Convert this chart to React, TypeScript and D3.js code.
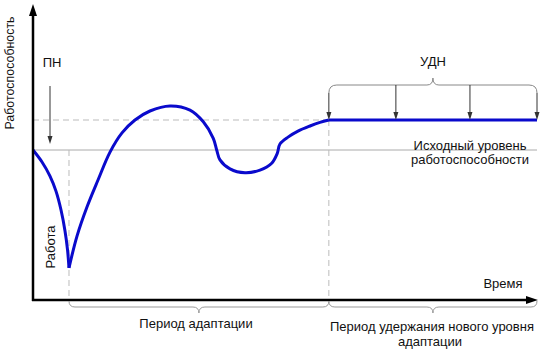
import React from 'react';
import * as d3 from 'd3';

const width = 550;
const height = 351;

// levels (capacity units) and time marks (time units)
const baseLevel = 50;
const newLevel = 60;
const workTime = 7.14;
const adaptEnd = 58.7;
const timeEnd = 100;
const udnArrowTimes = [58.7, 72, 86.7, 100];

// work capacity curve: sharp drop right after start
const dropTime = [0, 1.79, 3.37, 4.56, 5.56, 6.35, 6.85, 7.14];
const dropValue = [50, 46, 41.3, 36.3, 30, 23, 16.7, 10.7];

// recovery and adaptation wave up to the new level
const riseTime = [7.14, 8.73, 10.71, 12.9, 15.28, 17.66, 20.24, 23.21, 27.18, 31.15, 33.79, 35.77, 36.45, 37.1, 39.09, 42.06, 45.04, 47.36, 48.47, 49, 50.6, 52.58, 54.96, 56.94, 58.7];
const riseValue = [10.7, 21.3, 31, 40, 49.3, 55.7, 60, 63, 64.7, 63.3, 59.4, 53.9, 50, 46.7, 43.7, 42.4, 43.3, 45.6, 48.9, 52, 54.3, 56.3, 58, 59.2, 60];

// plateau of the held level
const holdTime = [58.7, 100];
const holdValue = [60, 60];

type Pt = { t: number; v: number };
const zip = (ts: number[], vs: number[]): Pt[] => ts.map((t, i) => ({ t, v: vs[i] }));

export default function App() {
  const x = d3.scaleLinear().domain([0, 100]).range([33, 537]);
  const y = d3.scaleLinear().domain([0, 100]).range([300, 0]);

  const curve = d3.line<Pt>()
    .x(d => x(d.t))
    .y(d => y(d.v))
    .curve(d3.curveCatmullRom.alpha(0.5));
  const straight = d3.line<Pt>().x(d => x(d.t)).y(d => y(d.v));

  const font = 'Liberation Sans, Arial, sans-serif';
  const x0 = x(0);
  const y0 = y(0);

  // curly brace opening downward (below axis)
  const braceDown = (a: number, b: number, top: number) => {
    const m = (a + b) / 2;
    const r = 6;
    return `M${a},${top} Q${a},${top + r} ${a + r},${top + r} L${m - r},${top + r} Q${m},${top + r} ${m},${top + 2 * r}` +
      ` Q${m},${top + r} ${m + r},${top + r} L${b - r},${top + r} Q${b},${top + r} ${b},${top}`;
  };

  // УДН bracket above plateau
  const bTop = 85;
  const bA = x(udnArrowTimes[0]);
  const bB = x(udnArrowTimes[udnArrowTimes.length - 1]);
  const bM = (bA + bB) / 2;
  const rr = 8;
  const bracketUp = `M${bA},${bTop + rr} Q${bA},${bTop} ${bA + rr},${bTop} L${bM - 6},${bTop} Q${bM},${bTop} ${bM},${bTop - 7}` +
    ` Q${bM},${bTop} ${bM + 6},${bTop} L${bB - rr},${bTop} Q${bB},${bTop} ${bB},${bTop + rr}`;

  const arrowTip = y(newLevel);

  return (
    <svg width={width} height={height} style={{ position: 'absolute', left: 0, top: 0, background: '#fff' }}>
      {/* baseline level */}
      <line x1={x0} x2={x(timeEnd)} y1={y(baseLevel)} y2={y(baseLevel)} stroke="#aaa" strokeWidth={1} />
      {/* new level dashed */}
      <line x1={x0} x2={x(adaptEnd)} y1={y(newLevel)} y2={y(newLevel)} stroke="#bbb" strokeWidth={1} strokeDasharray="6,4" />
      {/* vertical dashed marks */}
      <line x1={x(workTime)} x2={x(workTime)} y1={y(baseLevel)} y2={y0} stroke="#bbb" strokeWidth={1} strokeDasharray="6,4" />
      <line x1={x(adaptEnd)} x2={x(adaptEnd)} y1={y(newLevel)} y2={y0} stroke="#bbb" strokeWidth={1} strokeDasharray="6,4" />

      {/* curve */}
      <path d={curve(zip(dropTime, dropValue)) || ''} fill="none" stroke="#0a0acc" strokeWidth={3} strokeLinejoin="round" />
      <path d={curve(zip(riseTime, riseValue)) || ''} fill="none" stroke="#0a0acc" strokeWidth={3} strokeLinejoin="round" />
      <path d={straight(zip(holdTime, holdValue)) || ''} fill="none" stroke="#0a0acc" strokeWidth={3} />

      {/* axes */}
      <line x1={x0} x2={x0} y1={y0 + 1} y2={14} stroke="#000" strokeWidth={2.5} />
      <path d={`M${x0},4 L${x0 - 4},16 L${x0 + 4},16 Z`} fill="#000" />
      <line x1={x0 - 1} x2={x(timeEnd) - 8} y1={y0} y2={y0} stroke="#000" strokeWidth={2.5} />
      <path d={`M${x(timeEnd) + 1},${y0} L${x(timeEnd) - 11},${y0 - 4} L${x(timeEnd) - 11},${y0 + 4} Z`} fill="#000" />

      {/* ПН arrow */}
      <line x1={50} x2={50} y1={86} y2={137} stroke="#333" strokeWidth={1} />
      <path d={`M50,144 L47.5,136 L52.5,136 Z`} fill="#333" />

      {/* УДН bracket and arrows */}
      <path d={bracketUp} fill="none" stroke="#888" strokeWidth={1} />
      {udnArrowTimes.map((t, i) => (
        <g key={i}>
          <line x1={x(t)} x2={x(t)} y1={i === 0 || i === udnArrowTimes.length - 1 ? bTop + rr : bTop} y2={arrowTip - 7} stroke="#333" strokeWidth={1} />
          <path d={`M${x(t)},${arrowTip} L${x(t) - 2.5},${arrowTip - 8} L${x(t) + 2.5},${arrowTip - 8} Z`} fill="#333" />
        </g>
      ))}

      {/* bottom braces */}
      <path d={braceDown(x(workTime), x(adaptEnd), y0 + 1)} fill="none" stroke="#999" strokeWidth={1} />
      <path d={braceDown(x(adaptEnd), x(timeEnd), y0 + 1)} fill="none" stroke="#999" strokeWidth={1} />

      {/* labels */}
      <g fontFamily={font} fontSize={13} fill="#111">
        <text transform={`translate(14,73) rotate(-90)`} textAnchor="middle" fontSize={12.4}>Работоспособность</text>
        <text transform={`translate(55,247) rotate(-90)`} textAnchor="middle">Работа</text>
        <text x={52} y={67} textAnchor="middle">ПН</text>
        <text x={433} y={66} textAnchor="middle">УДН</text>
        <text x={470} y={150} textAnchor="middle">Исходный уровень</text>
        <text x={470} y={164} textAnchor="middle">работоспособности</text>
        <text x={503} y={288} textAnchor="middle">Время</text>
        <text x={196} y={328} textAnchor="middle">Период адаптации</text>
        <text x={432} y={331} textAnchor="middle">Период удержания нового уровня</text>
        <text x={430} y={346} textAnchor="middle">адаптации</text>
      </g>
    </svg>
  );
}
